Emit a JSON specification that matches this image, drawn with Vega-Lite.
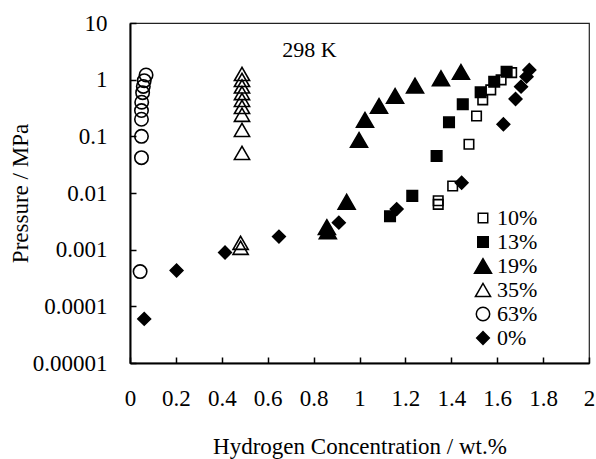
{
  "$schema": "https://vega.github.io/schema/vega-lite/v6.json",
  "width": 459,
  "height": 340,
  "autosize": {"type": "none"},
  "padding": {"left": 130, "top": 23, "right": 7, "bottom": 96},
  "background": "white",
  "config": {
    "font": "Times New Roman",
    "view": {"stroke": "#222", "strokeWidth": 1.2},
    "axis": {"grid": false, "domainColor": "black", "domainWidth": 2, "tickColor": "black", "tickWidth": 1.5, "labelColor": "black", "titleColor": "black", "labelFont": "Times New Roman", "titleFont": "Times New Roman", "labelFontSize": 23, "titleFontSize": 23, "titleFontWeight": "normal"},
    "legend": {"labelFont": "Times New Roman", "labelFontSize": 23, "labelColor": "black"},
    "text": {"font": "Times New Roman"}
  },
  "data": {"values": [
    {"s": "63%", "h": 0.070, "p": 1.21},
    {"s": "63%", "h": 0.062, "p": 0.96},
    {"s": "63%", "h": 0.058, "p": 0.76},
    {"s": "63%", "h": 0.055, "p": 0.59},
    {"s": "63%", "h": 0.051, "p": 0.40},
    {"s": "63%", "h": 0.050, "p": 0.285},
    {"s": "63%", "h": 0.050, "p": 0.20},
    {"s": "63%", "h": 0.050, "p": 0.10},
    {"s": "63%", "h": 0.050, "p": 0.042},
    {"s": "63%", "h": 0.044, "p": 0.00041},
    {"s": "35%", "h": 0.488, "p": 1.26},
    {"s": "35%", "h": 0.488, "p": 0.99},
    {"s": "35%", "h": 0.488, "p": 0.76},
    {"s": "35%", "h": 0.488, "p": 0.58},
    {"s": "35%", "h": 0.488, "p": 0.44},
    {"s": "35%", "h": 0.488, "p": 0.33},
    {"s": "35%", "h": 0.488, "p": 0.24},
    {"s": "35%", "h": 0.488, "p": 0.13},
    {"s": "35%", "h": 0.488, "p": 0.051},
    {"s": "35%", "h": 0.482, "p": 0.00132},
    {"s": "35%", "h": 0.482, "p": 0.00108},
    {"s": "19%", "h": 0.858, "p": 0.0025},
    {"s": "19%", "h": 0.862, "p": 0.0021},
    {"s": "19%", "h": 0.944, "p": 0.0070},
    {"s": "19%", "h": 0.998, "p": 0.0865},
    {"s": "19%", "h": 1.024, "p": 0.195},
    {"s": "19%", "h": 1.085, "p": 0.344},
    {"s": "19%", "h": 1.155, "p": 0.516},
    {"s": "19%", "h": 1.242, "p": 0.785},
    {"s": "19%", "h": 1.355, "p": 1.06},
    {"s": "19%", "h": 1.442, "p": 1.37},
    {"s": "13%", "h": 1.133, "p": 0.0039},
    {"s": "13%", "h": 1.230, "p": 0.0089},
    {"s": "13%", "h": 1.336, "p": 0.045},
    {"s": "13%", "h": 1.390, "p": 0.177},
    {"s": "13%", "h": 1.450, "p": 0.368},
    {"s": "13%", "h": 1.528, "p": 0.60},
    {"s": "13%", "h": 1.587, "p": 0.92},
    {"s": "13%", "h": 1.641, "p": 1.38},
    {"s": "10%", "h": 1.343, "p": 0.0063},
    {"s": "10%", "h": 1.343, "p": 0.0073},
    {"s": "10%", "h": 1.406, "p": 0.0133},
    {"s": "10%", "h": 1.477, "p": 0.0725},
    {"s": "10%", "h": 1.510, "p": 0.229},
    {"s": "10%", "h": 1.537, "p": 0.44},
    {"s": "10%", "h": 1.572, "p": 0.66},
    {"s": "10%", "h": 1.617, "p": 0.99},
    {"s": "10%", "h": 1.663, "p": 1.33},
    {"s": "0%", "h": 0.062, "p": 0.00006},
    {"s": "0%", "h": 0.203, "p": 0.00043},
    {"s": "0%", "h": 0.414, "p": 0.00089},
    {"s": "0%", "h": 0.649, "p": 0.0017},
    {"s": "0%", "h": 0.910, "p": 0.0030},
    {"s": "0%", "h": 1.162, "p": 0.0052},
    {"s": "0%", "h": 1.445, "p": 0.0152},
    {"s": "0%", "h": 1.627, "p": 0.163},
    {"s": "0%", "h": 1.680, "p": 0.457},
    {"s": "0%", "h": 1.704, "p": 0.753},
    {"s": "0%", "h": 1.728, "p": 1.13},
    {"s": "0%", "h": 1.740, "p": 1.48}
  ]},
  "layer": [
    {
      "mark": {"type": "point", "filled": true, "stroke": "black", "strokeWidth": 1.6, "opacity": 1},
      "encoding": {
        "x": {"field": "h", "type": "quantitative", "scale": {"domain": [0, 2], "nice": false},
          "axis": {"title": "Hydrogen Concentration / wt.%", "values": [0, 0.2, 0.4, 0.6, 0.8, 1, 1.2, 1.4, 1.6, 1.8, 2], "format": "~g", "tickSize": -6, "labelPadding": 30, "titlePadding": 25, "labelFlush": false, "labelOverlap": false}},
        "y": {"field": "p", "type": "quantitative", "scale": {"type": "log", "domain": [0.00001, 10], "nice": false},
          "axis": {"title": "Pressure / MPa", "values": [0.00001, 0.0001, 0.001, 0.01, 0.1, 1, 10], "format": ".5~f", "tickSize": -6, "labelPadding": 29, "titlePadding": 0, "labelFlush": false, "labelOverlap": false}},
        "shape": {"field": "s", "type": "nominal", "scale": {"domain": ["10%", "13%", "19%", "35%", "63%", "0%"], "range": ["square", "square", "triangle-up", "triangle-up", "circle", "diamond"]},
          "legend": {"title": null, "orient": "none", "legendX": 342, "legendY": 184, "rowPadding": 2, "labelOffset": 3, "padding": 0, "labelFontSize": 22,
            "encode": {"symbols": {"update": {"stroke": {"value": "black"}, "strokeWidth": {"value": 1.6}}}}}},
        "fill": {"field": "s", "type": "nominal", "scale": {"domain": ["10%", "13%", "19%", "35%", "63%", "0%"], "range": ["transparent", "black", "black", "transparent", "transparent", "black"]},
          "legend": {"title": null, "orient": "none", "legendX": 342, "legendY": 184, "rowPadding": 2, "labelOffset": 3, "padding": 0, "labelFontSize": 22,
            "encode": {"symbols": {"update": {"stroke": {"value": "black"}, "strokeWidth": {"value": 1.6}}}}}},
        "size": {"field": "s", "type": "nominal", "scale": {"type": "ordinal", "domain": ["10%", "13%", "19%", "35%", "63%", "0%"], "range": [90, 110, 290, 230, 180, 160]},
          "legend": {"title": null, "orient": "none", "legendX": 342, "legendY": 184, "rowPadding": 2, "labelOffset": 3, "padding": 0, "labelFontSize": 22,
            "encode": {"symbols": {"update": {"stroke": {"value": "black"}, "strokeWidth": {"value": 1.6}}}}}}
      }
    },
    {
      "data": {"values": [{"label": "298 K", "h": 0.782, "p": 3.34}]},
      "mark": {"type": "text", "fontSize": 22, "font": "Times New Roman", "color": "black", "baseline": "middle", "align": "center"},
      "encoding": {
        "x": {"field": "h", "type": "quantitative"},
        "y": {"field": "p", "type": "quantitative"},
        "text": {"field": "label"}
      }
    }
  ]
}
